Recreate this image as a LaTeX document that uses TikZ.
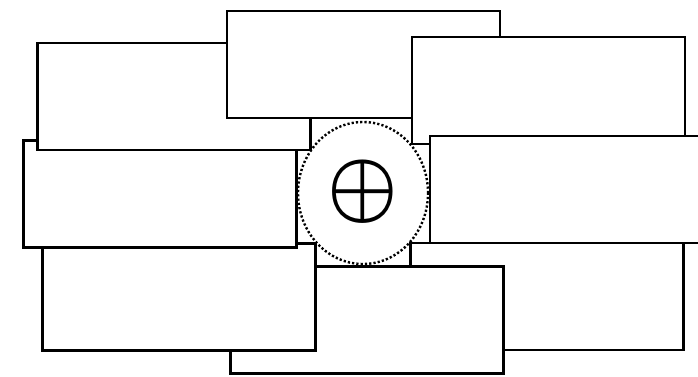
\documentclass[tikz,border=0pt]{standalone}
\usepackage{amsmath,amssymb}
\usepackage{bm}
\usepackage{graphicx}
\usepackage{tikz}
\usetikzlibrary{positioning,shapes.geometric}
\tikzset{
  panel/.style={rectangle, draw=black, fill=white, line width=2.2pt,
    minimum width=273pt, minimum height=107pt, inner sep=0pt},
  ring/.style={ellipse, draw=black, line width=2.4pt, dash pattern=on 2.2pt off 2.1pt,
    minimum width=130pt, minimum height=142pt, inner sep=0pt},
}

\begin{document}
\begin{tikzpicture}[x=1pt, y=-1pt]
  \clip (0,0) rectangle (698,376);
  % ── lower panels (drawn first, they sit underneath) ───────────────
  \node[panel] (br) at (547,296.5) {};
  \node[panel] (bc) at (367,320) {};
  \node[panel] (bl) at (179,297) {};
  % ── left and upper panels ─────────────────────────────────────────
  \node[panel] (ml) at (160,194) {};
  \node[panel] (tl) at (174,96.5) {};
  \node[panel] (tc) at (363.5,64.5) {};
  \node[panel] (tr) at (548.5,90.5) {};
  \node[panel] (mr) at (566.5,189.5) {};
  % ── centre: dotted ring round the sum symbol ──────────────────────
  \node[ring] (hub) at (363,193) {};
  \node[inner sep=0pt] (sum) at (363,192) {\scalebox{7.9}[8.3]{$\bm{\oplus}$}};
\end{tikzpicture}
\end{document}
